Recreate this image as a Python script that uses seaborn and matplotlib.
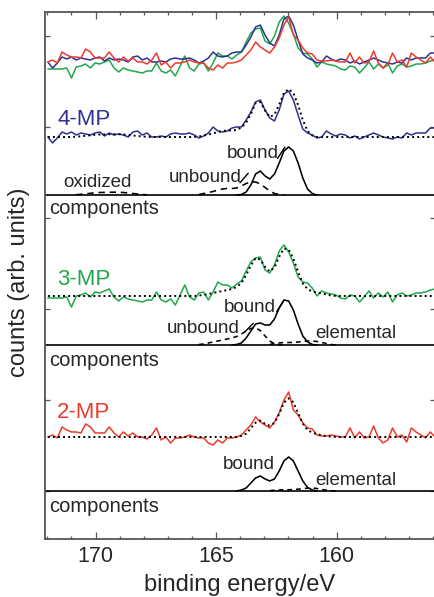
import numpy as np
import matplotlib
matplotlib.use("Agg")
import matplotlib.pyplot as plt
import seaborn as sns
from matplotlib.ticker import MultipleLocator, FixedLocator, NullFormatter

# ---------------- data ----------------
# binding-energy grid of the measured spectra (eV)
energy = np.linspace(171.98, 155.92, 83)

# S 2p spectra, counts above background (arb. units)
mp4_counts = [0, -6, -1, 5, 3, 5, 2, 4, 3, 2, 4, 5, 1, 4, 2, 3, 2, 0, 5, 6,
              2, 4, 0, 0, 1, 0, 3, 4, 3, 3, 4, 2, -1, 1, 4, 10, 6, 5, 6, 9,
              10, 10, 17, 25, 35, 37, 27, 19, 16, 27, 43, 46, 37, 22, 8, 4, 2, -1, 0, 6,
              3, 1, 3, 2, -1, 1, -2, 0, 2, 4, 2, 0, -1, -2, 0, -1, 4, 2, 4, 4,
              4, 9, 9]
mp3_counts = [-2, -2, -2, -2, -1, -11, 0, 1, 3, -1, 4, 3, 5, 7, -1, -5, -1, -3, -4, -5,
              -6, -4, -4, 4, -4, -6, -3, -9, 1, 11, -1, -4, 3, 4, -4, 4, 14, 11, 11, 8,
              12, 15, 25, 34, 38, 39, 26, 23, 31, 45, 51, 44, 33, 19, 14, 13, 8, 0, 5, 3,
              2, 1, -2, -3, 1, 0, -6, -1, 5, -2, 3, -1, 4, -6, 1, 3, 0, 1, 3, 3,
              4, 6, 7]
mp2_counts = [0, 2, -1, 10, 7, 5, 5, 4, 13, 10, 4, 4, 4, 10, 4, 0, 5, 1, 4, 0,
              0, -2, 2, 9, -3, 0, -6, -1, -1, 0, 2, 0, -1, -1, -6, -8, -3, -6, -1, -1,
              0, 2, 7, 12, 20, 15, 12, 9, 15, 24, 37, 45, 27, 22, 14, 9, 8, 2, 1, 1,
              2, 1, 0, 0, 9, -1, 5, -1, 0, 11, -1, -6, -3, 9, 0, 2, -5, 9, 5, 2,
              -1, 5, 0]

# fitted components (start energy, values on the same grid)
bound4_start, bound4 = 164.15, [0, 0.5, 3, 10, 21, 24, 19, 16, 21, 32, 44, 48, 44, 32, 17, 6, 1.5, 0]
unbound4_start, unbound4 = 165.71, [0.5, 1.5, 2.5, 3.5, 5, 6, 6.5, 6.5, 7, 9, 11.5, 13, 13, 11, 7.5, 4, 1.5, 0.5, 0]
oxid4_start, oxid4 = 170.81, [0.3, 0.7, 1.2, 1.7, 2.2, 2.5, 2.6, 2.7, 2.8, 2.8, 2.5, 2, 1.5, 1, 0.5, 0.2]
bound3_start, bound3 = 164.34, [0, 0.5, 2, 7, 14, 21, 22, 20, 20, 26, 37, 45, 44, 35, 21, 9, 3, 0.5, 0]
unbound3_start, unbound3 = 165.71, [0.5, 1, 2, 3, 4, 5, 6, 7, 8.5, 11, 14, 16.5, 17, 14.5, 9, 4, 1.2, 0.3, 0]
elem3_start, elem3 = 162.78, [0.5, 1.5, 2, 2.5, 2.5, 2.5, 3, 3.5, 4, 4, 3.5, 2.5, 1.5, 0.5, 0]
bound2_start, bound2 = 164.15, [0, 1, 3, 8, 13, 15, 12, 10, 12, 20, 30, 34, 30, 20, 10, 3.5, 1, 0]
elem2_start, elem2 = 162.78, [0.3, 0.8, 1, 1.2, 1.2, 1.5, 1.8, 2.2, 2.8, 3, 2.5, 1.5, 0.8, 0.3, 0]
fit_scale = {"4-MP": 1.0, "3-MP": 1.0, "2-MP": 1.1}

sample_labels = ["4-MP", "3-MP", "2-MP"]
x_ticks = [170, 165, 160]

# ---------------- layout (vertical offsets in the stacked plot) ----------------
off_top = {"4-MP": 477, "3-MP": 472, "2-MP": 477}
off_spec = {"4-MP": 402, "3-MP": 243, "2-MP": 102}
off_comp = {"4-MP": 344, "3-MP": 194, "2-MP": 48}
colors = {"4-MP": "#2E3192", "3-MP": "#1FA84A", "2-MP": "#EE3A2B"}

sns.set_theme(style="ticks")
plt.rcParams["font.family"] = ["Liberation Sans", "DejaVu Sans"]

fig = plt.figure(figsize=(4.35, 5.97), dpi=100)
ax = fig.add_axes([0.1023, 0.0972, 0.8966, 0.8832])


def idx(e0):
    return int(np.argmin(np.abs(energy - e0)))


def full(start, vals):
    out = np.zeros(len(energy))
    i = idx(start)
    out[i:i + len(vals)] = vals
    return out


def comp_line(start, vals, base, ls):
    i = idx(start)
    xs = energy[i:i + len(vals)]
    ys = np.asarray(vals, float) + base
    sns.lineplot(x=xs, y=ys, ax=ax, sort=False, estimator=None, color="black",
                 lw=1.15, linestyle=ls)


spectra = {"4-MP": np.array(mp4_counts, float),
           "3-MP": np.array(mp3_counts, float),
           "2-MP": np.array(mp2_counts, float)}
components = {
    "4-MP": [(bound4_start, bound4, "-"), (unbound4_start, unbound4, (0, (4, 3))),
             (oxid4_start, oxid4, (0, (4, 3)))],
    "3-MP": [(bound3_start, bound3, "-"), (unbound3_start, unbound3, (0, (3, 2.5))),
             (elem3_start, elem3, (0, (3, 2.5)))],
    "2-MP": [(bound2_start, bound2, "-"), (elem2_start, elem2, (0, (3, 2.5)))],
}

# overlay at the top
for name in ["3-MP", "4-MP", "2-MP"]:
    sns.lineplot(x=energy, y=spectra[name] + off_top[name], ax=ax, sort=False,
                 estimator=None, color=colors[name], lw=1.1)

for name in sample_labels:
    total = np.zeros(len(energy))
    for start, vals, ls in components[name]:
        total += full(start, vals)
    fit = off_spec[name] + fit_scale[name] * total
    sns.lineplot(x=energy, y=spectra[name] + off_spec[name], ax=ax, sort=False,
                 estimator=None, color=colors[name], lw=1.1)
    sns.lineplot(x=energy, y=fit, ax=ax, sort=False, estimator=None, color="black",
                 lw=1.4, linestyle=(0, (1, 1.6)))
    ax.axhline(off_comp[name], color="black", lw=1.2)
    for start, vals, ls in components[name]:
        comp_line(start, vals, off_comp[name], ls)

# labels
for name, ylab in zip(sample_labels, [414, 254, 121]):
    ax.text(171.6, ylab, name, color=colors[name], fontsize=16, va="baseline", ha="left")
for ylab in [325, 173.3, 27.3]:
    ax.text(171.94, ylab, "components", fontsize=14.5, va="baseline", ha="left")

lab_fs = 13.5
ax.text(164.54, 380.7, "bound", fontsize=lab_fs, va="baseline")
ax.text(166.95, 357.3, "unbound", fontsize=lab_fs, va="baseline")
ax.text(171.34, 352.3, "oxidized", fontsize=lab_fs, va="baseline")
ax.text(164.68, 227.3, "bound", fontsize=lab_fs, va="baseline")
ax.text(167.05, 205.7, "unbound", fontsize=lab_fs, va="baseline")
ax.text(160.90, 201.3, "elemental", fontsize=lab_fs, va="baseline")
ax.text(164.73, 70, "bound", fontsize=lab_fs, va="baseline")
ax.text(160.90, 54, "elemental", fontsize=lab_fs, va="baseline")
for (x0, y0, x1, y1) in [(162.45, 380.7, 162.15, 391.7), (164.01, 356.3, 163.67, 365.7),
                         (162.49, 227.3, 162.22, 237.3), (163.80, 207.3, 163.46, 215.7)]:
    ax.plot([x0, x1], [y0, y1], color="black", lw=1.0)

# axes styling
ax.set_xlim(172.12, 155.94)
ax.set_ylim(0, 527.3)
ax.xaxis.set_major_locator(FixedLocator(x_ticks))
ax.xaxis.set_minor_locator(MultipleLocator(1))
ax.yaxis.set_major_locator(FixedLocator([48, 139, 230, 321, 412, 503]))
ax.yaxis.set_major_formatter(NullFormatter())
spine_c = "#555555"
for s in ax.spines.values():
    s.set_color(spine_c)
    s.set_linewidth(1.3)
    s.set_visible(True)
ax.tick_params(axis="x", which="major", direction="in", top=True, bottom=True,
               length=5, width=0.9, color=spine_c, labelsize=15.5, pad=5)
ax.tick_params(axis="x", which="minor", direction="in", top=True, bottom=True,
               length=2.5, width=0.9, color=spine_c)
ax.tick_params(axis="y", which="major", direction="in", left=True, right=True,
               length=3.8, width=0.9, color=spine_c)
ax.set_xlabel("binding energy/eV", fontsize=17)
ax.set_ylabel("counts (arb. units)", fontsize=17)
ax.xaxis.set_label_coords(0.5, -0.066)
ax.yaxis.set_label_coords(-0.037, 0.486)

fig.savefig("out.png", dpi=100)
